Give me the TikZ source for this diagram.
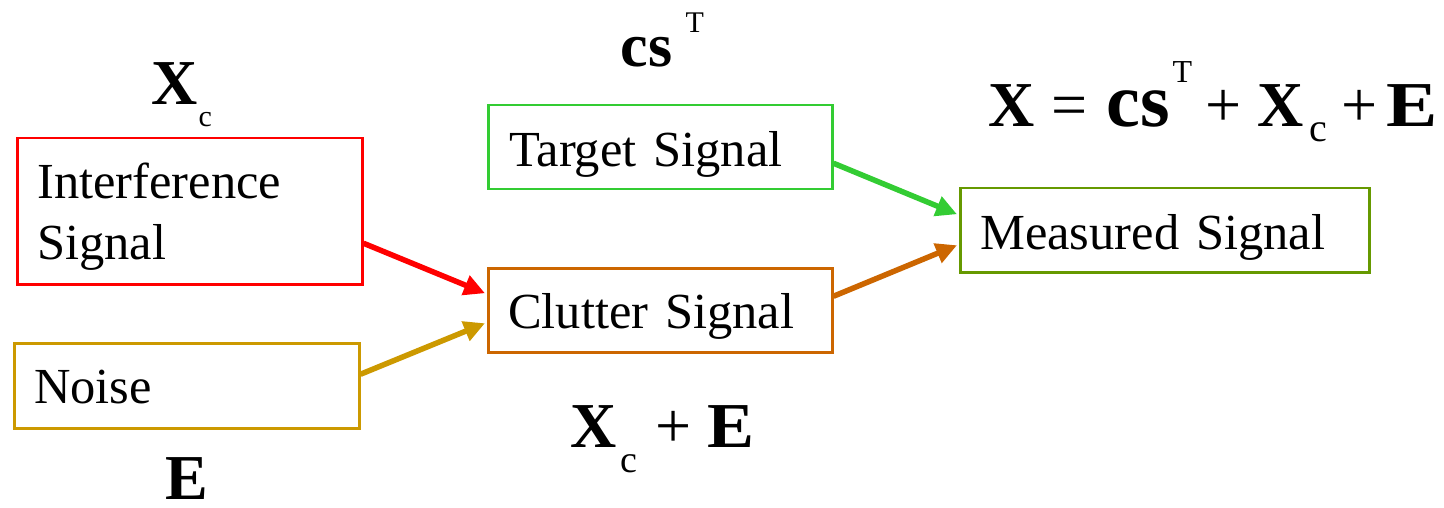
\documentclass[tikz,border=0pt]{standalone}
\usepackage{fontspec}
\setmainfont{Liberation Serif}
\usepackage{graphicx}
\usetikzlibrary{arrows.meta}
\definecolor{cred}{HTML}{FF0000}
\definecolor{cgold}{HTML}{CC9900}
\definecolor{cgreen}{HTML}{33CC33}
\definecolor{corange}{HTML}{CC6600}
\definecolor{colive}{HTML}{669900}
\newcommand\fs[1]{\fontsize{#1}{#1}\selectfont}
\newcommand\pl[3]{\makebox[0pt][l]{\hspace*{#1pt}\raisebox{#2pt}{#3}}}
\tikzset{
  sigbox/.style={draw, line width=2.5pt, inner ysep=0pt, align=left,
    anchor=north west, font=\fontsize{50.5}{61}\selectfont},
  flow/.style={line width=5.5pt, -{Triangle[length=21pt,width=20pt]}},
  eq/.style={inner sep=0pt, anchor=base west},
}
\begin{document}
\begin{tikzpicture}[x=1pt,y=-1pt]
\useasboundingbox (0,0) rectangle (1444,508);
% boxes
\node[sigbox, cred, text=black, inner xsep=20pt, text width=305pt, text height=60pt, text depth=86pt]
  (intf) at (16,137) {Interference\\Signal};
\node[sigbox, cgold, text=black, inner xsep=20pt, text width=305pt, text height=60pt, text depth=25pt]
  (noise) at (13,342) {Noise};
\node[sigbox, cgreen, text=black, inner xsep=21pt, text width=302pt, text height=61pt, text depth=23pt]
  (target) at (487,104) {Target Signal};
\node[sigbox, corange, text=black, inner xsep=20pt, text width=304pt, text height=60pt, text depth=24pt]
  (clutter) at (487,267) {Clutter Signal};
\node[sigbox, colive, text=black, inner xsep=20pt, text width=369pt, text height=61pt, text depth=23pt]
  (meas) at (959,187) {Measured Signal};
% arrows
\draw[flow, cred] ([yshift=-32pt]intf.east) -- ([yshift=17pt,xshift=-2pt]clutter.west);
\draw[flow, cgold] ([yshift=11.5pt]noise.east) -- ([yshift=-13pt,xshift=-2pt]clutter.west);
\draw[flow, cgreen] ([yshift=-16pt]target.east) -- ([yshift=16pt,xshift=-2pt]meas.west);
\draw[flow, corange] ([yshift=14pt]clutter.east) -- ([yshift=-15pt,xshift=-2pt]meas.west);
% equations
\node[eq] (eqall) at (988,127) {%
  \pl{0}{0}{\fs{64}\bfseries X}%
  \pl{63}{0}{\fs{64}=}%
  \pl{118}{0}{\fs{76}\bfseries cs}%
  \pl{184}{44}{\fs{32}T}%
  \pl{217}{0}{\fs{64}+}%
  \pl{269}{0}{\fs{64}\bfseries X}%
  \pl{321}{-15}{\fs{40}c}%
  \pl{353}{0}{\fs{64}+}%
  \pl{398}{0}{\fs{64}\bfseries\scalebox{1.2}[1]{E}}};
\node[eq] (eqcs) at (620,67) {%
  \pl{0}{0}{\fs{62}\bfseries cs}%
  \pl{65}{34}{\fs{30}T}};
\node[eq] (eqxc) at (151,105) {%
  \pl{0}{0}{\fs{64}\bfseries X}%
  \pl{47}{-22}{\fs{30}c}};
\node[eq] (eqclut) at (570,447) {%
  \pl{0}{0}{\fs{64}\bfseries X}%
  \pl{50}{-25}{\fs{38}c}%
  \pl{85}{0}{\fs{64}+}%
  \pl{137}{0}{\fs{64}\bfseries\scalebox{1.1}[1]{E}}};
\node[eq] (eqe) at (165,499) {\fs{64}\bfseries E};
\end{tikzpicture}
\end{document}
